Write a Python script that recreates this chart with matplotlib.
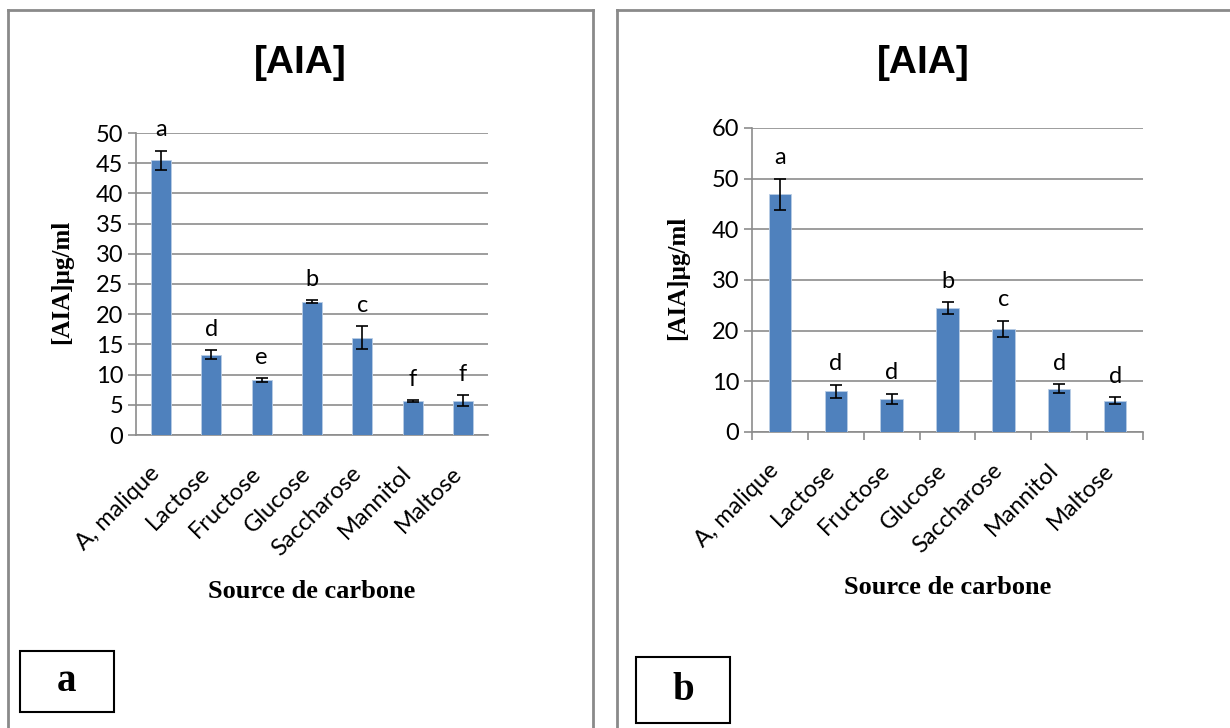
import matplotlib
matplotlib.use('Agg')
import matplotlib.pyplot as plt
from matplotlib.lines import Line2D
from matplotlib.patches import Rectangle
from matplotlib.transforms import ScaledTranslation

# carbon sources tested
sources = ['A, malique', 'Lactose', 'Fructose', 'Glucose', 'Saccharose',
           'Mannitol', 'Maltose']

# panel a: IAA concentration (µg/ml) and standard error
aia_a = [45.5, 13.3, 9.1, 22.1, 16.1, 5.6, 5.7]
err_a = [1.6, 0.7, 0.3, 0.25, 1.9, 0.2, 0.9]
groups_a = ['a', 'd', 'e', 'b', 'c', 'f', 'f']

# panel b
aia_b = [46.9, 8.0, 6.5, 24.4, 20.4, 8.5, 6.2]
err_b = [3.1, 1.35, 1.05, 1.2, 1.6, 0.9, 0.65]
groups_b = ['a', 'd', 'd', 'b', 'c', 'd', 'd']

W, H = 1230, 728
BAR = '#4f81bd'
GRID = '#8c8c8c'
SANS = 'Lato'
SERIF = 'Liberation Serif'


def fx(x):
    return x / W


def fy(y):
    return 1 - y / H


def panel(fig, rect, values, errs, groups, ymax, step, xticks):
    ax = fig.add_axes(rect)
    x = range(len(sources))
    ax.bar(x, values, width=0.4, color=BAR, edgecolor='#b9cde5',
           linewidth=0.6, zorder=3)
    ax.errorbar(x, values, yerr=errs, fmt='none', ecolor='black',
                elinewidth=1.2, capsize=4, capthick=1.2, zorder=4)
    for i, (v, e, g) in enumerate(zip(values, errs, groups)):
        ax.annotate(g, (i, v + e), xytext=(0, 15), textcoords='offset points',
                    ha='center', va='center', fontsize=17, family=SANS)
    ax.set_xlim(-0.5, len(sources) - 0.5)
    ax.set_ylim(0, ymax)
    ax.set_yticks(range(0, ymax + 1, step))
    ax.yaxis.grid(True, color=GRID, linewidth=1.2, zorder=0)
    for s in ('top', 'right'):
        ax.spines[s].set_visible(False)
    for s in ('left', 'bottom'):
        ax.spines[s].set_color(GRID)
        ax.spines[s].set_linewidth(1.2)
    ax.tick_params(axis='y', length=6, width=1.2, color=GRID, pad=3,
                   labelsize=17)
    ax.set_xticks(list(x))
    ax.set_xticklabels(sources, rotation=45, ha='right',
                       rotation_mode='anchor', fontsize=17, family=SANS)
    ax.tick_params(axis='x', length=0, pad=14)
    # slide the slanted names down-left along their baseline
    shift = ScaledTranslation(-0.12, -0.08, fig.dpi_scale_trans)
    for lab in ax.get_xticklabels():
        lab.set_transform(lab.get_transform() + shift)
    for lab in ax.get_yticklabels():
        lab.set_family(SANS)
    if xticks:
        ax.set_xticks([i - 0.5 for i in range(len(sources) + 1)], minor=True)
        ax.tick_params(axis='x', which='minor', length=6, width=1.2,
                       color=GRID, direction='out')
    return ax


fig = plt.figure(figsize=(W / 100, H / 100), dpi=100)

panel(fig, [fx(136), fy(435), fx(488 - 136), (435 - 133) / H],
      aia_a, err_a, groups_a, 50, 5, False)
panel(fig, [fx(752), fy(432), fx(1143 - 752), (432 - 128) / H],
      aia_b, err_b, groups_b, 60, 10, True)

# titles and axis captions
for cx, cy, ylx, yly, xlx, xly in [(300, 63, 62, 282, 312, 591),
                                   (923, 63, 678, 278, 948, 588)]:
    fig.text(fx(cx), fy(cy), '[AIA]', ha='center', va='center',
             fontsize=28, fontweight='bold', family='Liberation Sans')
    fig.text(fx(ylx), fy(yly), '[AIA]µg/ml', ha='center', va='center',
             rotation=90, fontsize=18, fontweight='bold', family=SERIF)
    fig.text(fx(xlx), fy(xly), 'Source de carbone', ha='center', va='center',
             fontsize=19, fontweight='bold', family=SERIF)

# page frames around each panel
frame = dict(color='#8a8a8a', linewidth=2, transform=fig.transFigure)
fig.lines += [
    Line2D([fx(8), fx(8)], [fy(10), 0], **frame),
    Line2D([fx(8), fx(593)], [fy(10), fy(10)], **frame),
    Line2D([fx(593), fx(593)], [fy(10), 0], **frame),
    Line2D([fx(617), fx(617)], [fy(10), 0], **frame),
    Line2D([fx(617), 1], [fy(10), fy(10)], **frame),
]

# panel letters in boxes
for x0, y0, x1, y1, tag in [(20, 651, 114, 712, 'a'), (636, 657, 730, 723, 'b')]:
    fig.patches.append(Rectangle((fx(x0), fy(y1)), fx(x1 - x0), (y1 - y0) / H,
                                 transform=fig.transFigure, fill=False,
                                 edgecolor='black', linewidth=1.5))
    fig.text(fx((x0 + x1) / 2), fy((y0 + y1) / 2), tag, ha='center',
             va='center', fontsize=28, fontweight='bold', family=SERIF)

fig.savefig('out.png', dpi=100)
